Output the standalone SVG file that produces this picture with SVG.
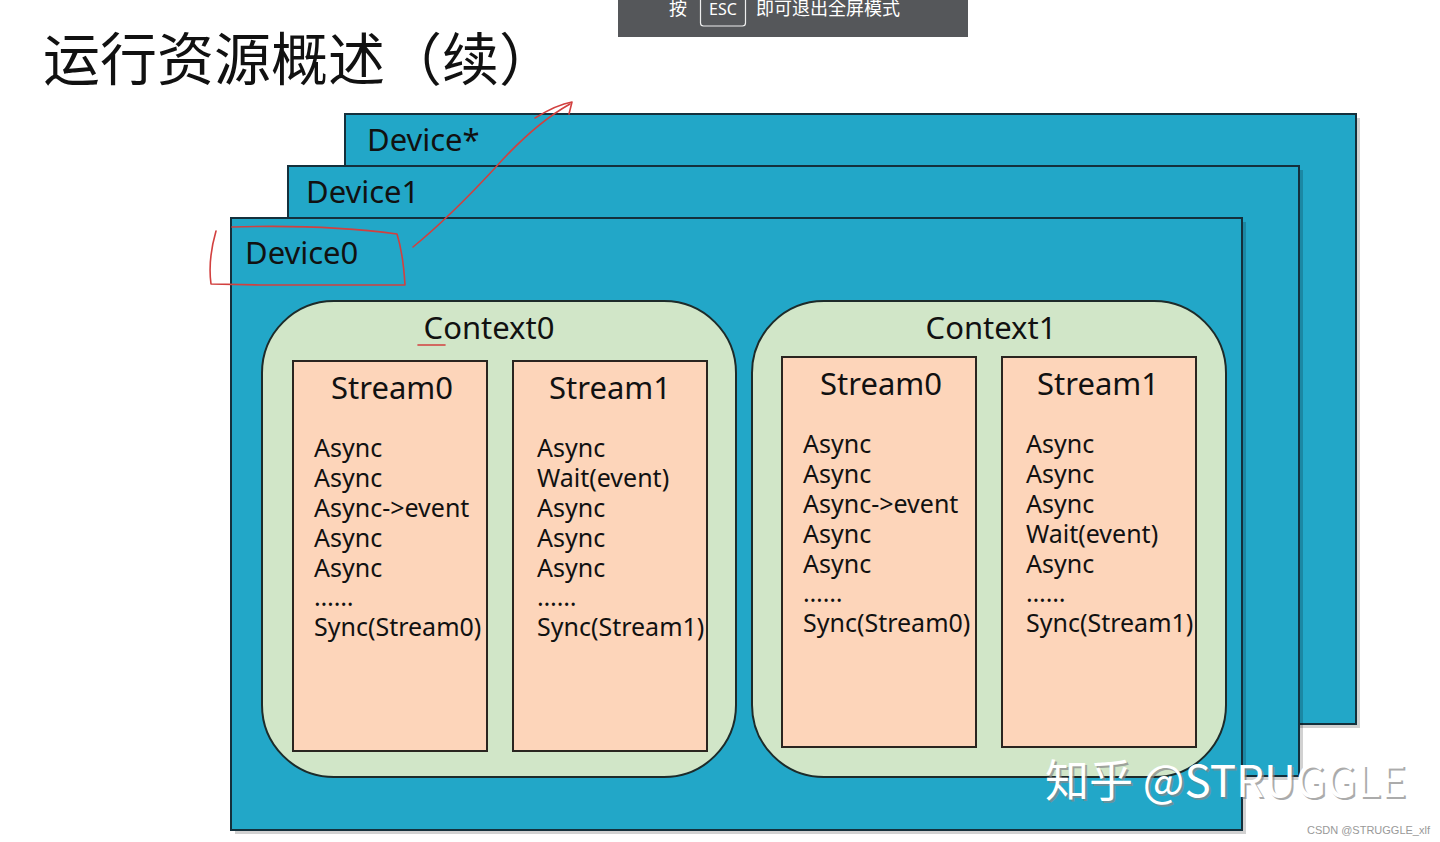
<svg xmlns="http://www.w3.org/2000/svg" width="1440" height="842" viewBox="0 0 1440 842">
<defs>
<style>
.dev{fill:#22a7c8;stroke:#14303c;stroke-width:2}
.shadow{fill:#000;opacity:0.18}
.ctx{fill:#d1e6c8;stroke:#1d2b2a;stroke-width:2}
.str{fill:#fdd5ba;stroke:#2a2520;stroke-width:2}
.lbl{font-family:"Noto Sans","Open Sans",sans-serif;fill:#111;font-size:31px}
.item{font-family:"Noto Sans","Open Sans",sans-serif;fill:#111;font-size:25px}
.red{fill:none;stroke:#d2403f;stroke-width:1.6;stroke-linecap:round;stroke-linejoin:round}
</style>
</defs>
<rect width="1440" height="842" fill="#ffffff"/>
<text x="43" y="80" font-family="Noto Sans CJK SC, sans-serif" font-size="57" fill="#111">运行资源概述（续）</text>
<g id="banner">
<rect x="618" y="0" width="350" height="37" fill="#55575a"/>
<text x="669" y="15" font-family="Noto Sans CJK SC, sans-serif" font-size="18" fill="#fff">按</text>
<rect x="700.5" y="-6" width="45" height="32" rx="3" fill="none" stroke="#eee" stroke-width="1.2"/>
<text x="723" y="15" text-anchor="middle" font-family="Noto Sans, sans-serif" font-size="16" fill="#fff">ESC</text>
<text x="756" y="15" font-family="Noto Sans CJK SC, sans-serif" font-size="18" fill="#fff">即可退出全屏模式</text>
</g>
<g id="deviceStar">
<rect class="shadow" x="349" y="118" width="1011" height="610"/>
<rect class="dev" x="345" y="114" width="1011" height="610"/>
<text class="lbl" x="367" y="151">Device*</text>
</g>
<g id="device1">
<rect class="shadow" x="292" y="170" width="1011" height="610"/>
<rect class="dev" x="288" y="166" width="1011" height="610"/>
<text class="lbl" x="306" y="203">Device1</text>
</g>
<g id="device0">
<rect class="shadow" x="235" y="222" width="1011" height="612"/>
<rect class="dev" x="231" y="218" width="1011" height="612"/>
<text class="lbl" x="245" y="264">Device0</text>
</g>
<g id="context0">
<rect class="ctx" x="262" y="301" width="474" height="476" rx="72" ry="72"/>
<text class="lbl" x="489" y="339" text-anchor="middle">Context0</text>
</g>
<g id="context1">
<rect class="ctx" x="752" y="301" width="474" height="476" rx="72" ry="72"/>
<text class="lbl" x="991" y="339" text-anchor="middle">Context1</text>
</g>
<g id="c0stream0">
<rect class="str" x="293" y="361" width="194" height="390"/>
<text class="lbl" x="392" y="399" text-anchor="middle">Stream0</text>
<text class="item" x="314" y="457">Async</text>
<text class="item" x="314" y="487">Async</text>
<text class="item" x="314" y="517">Async-&gt;event</text>
<text class="item" x="314" y="547">Async</text>
<text class="item" x="314" y="577">Async</text>
<text class="item" x="314" y="606">……</text>
<text class="item" x="314" y="636">Sync(Stream0)</text>
</g>
<g id="c0stream1">
<rect class="str" x="513" y="361" width="194" height="390"/>
<text class="lbl" x="610" y="399" text-anchor="middle">Stream1</text>
<text class="item" x="537" y="457">Async</text>
<text class="item" x="537" y="487">Wait(event)</text>
<text class="item" x="537" y="517">Async</text>
<text class="item" x="537" y="547">Async</text>
<text class="item" x="537" y="577">Async</text>
<text class="item" x="537" y="606">……</text>
<text class="item" x="537" y="636">Sync(Stream1)</text>
</g>
<g id="c1stream0">
<rect class="str" x="782" y="357" width="194" height="390"/>
<text class="lbl" x="881" y="395" text-anchor="middle">Stream0</text>
<text class="item" x="803" y="453">Async</text>
<text class="item" x="803" y="483">Async</text>
<text class="item" x="803" y="513">Async-&gt;event</text>
<text class="item" x="803" y="543">Async</text>
<text class="item" x="803" y="573">Async</text>
<text class="item" x="803" y="602">……</text>
<text class="item" x="803" y="632">Sync(Stream0)</text>
</g>
<g id="c1stream1">
<rect class="str" x="1002" y="357" width="194" height="390"/>
<text class="lbl" x="1098" y="395" text-anchor="middle">Stream1</text>
<text class="item" x="1026" y="453">Async</text>
<text class="item" x="1026" y="483">Async</text>
<text class="item" x="1026" y="513">Async</text>
<text class="item" x="1026" y="543">Wait(event)</text>
<text class="item" x="1026" y="573">Async</text>
<text class="item" x="1026" y="602">……</text>
<text class="item" x="1026" y="632">Sync(Stream1)</text>
</g>
<g id="annotations">
<path class="red" d="M216,231 C212,245 208,262 211,284 L260,285 L405,285 C404,268 402,250 397,234 C360,229 300,225 232,227"/>
<path class="red" d="M413,247 C440,225 470,195 495,168 C520,140 545,118 570,104"/>
<path class="red" d="M535,118 C548,110 560,104 572,102 L569,114"/>
<path class="red" d="M418,345 L445,345"/>
</g>
<g id="watermark">
<text x="1047" y="799" font-family="Noto Sans CJK SC, sans-serif" font-size="44" fill="#888" opacity="0.7">知乎 @STRUGGLE</text>
<text x="1045" y="797" font-family="Noto Sans CJK SC, sans-serif" font-size="44" fill="#fff">知乎 @STRUGGLE</text>
<text x="1430" y="834" text-anchor="end" font-family="Liberation Sans, sans-serif" font-size="11" fill="#999">CSDN @STRUGGLE_xlf</text>
</g>
</svg>
